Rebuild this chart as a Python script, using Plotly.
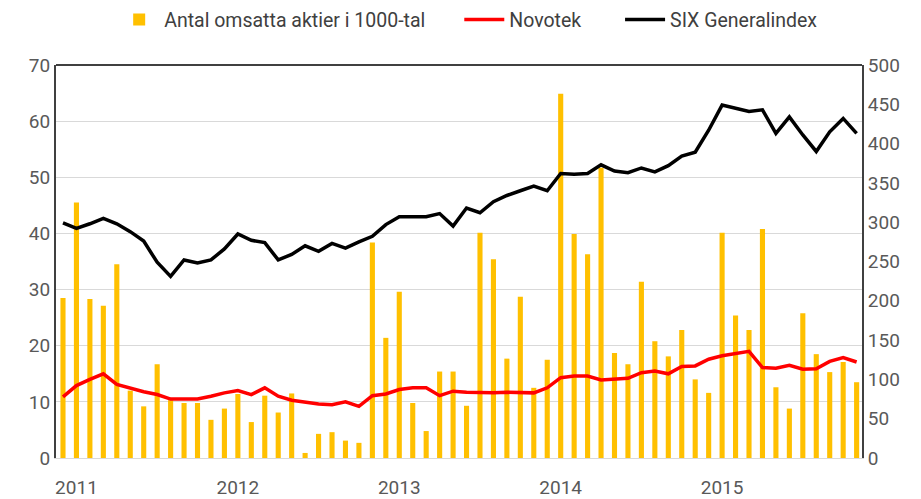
import plotly.graph_objects as go

years = ["2011", "2012", "2013", "2014", "2015"]
month_numbers = ["01", "02", "03", "04", "05", "06", "07", "08", "09", "10", "11", "12"]
months = [f"{y}-{m}" for y in years for m in month_numbers]

# Antal omsatta aktier i 1000-tal (left axis)
volume = [28.5, 45.5, 28.3, 27.1, 34.5, 12.0, 9.2, 16.7, 10.3, 9.8,
          9.8, 6.8, 8.8, 11.4, 6.4, 11.1, 8.1, 11.5, 0.9, 4.3,
          4.6, 3.1, 2.7, 38.4, 21.4, 29.6, 9.8, 4.8, 15.4, 15.4,
          9.3, 40.1, 35.4, 17.7, 28.7, 12.5, 17.5, 64.9, 39.9, 36.3,
          51.7, 18.7, 16.7, 31.4, 20.8, 18.1, 22.8, 14.0, 11.6, 40.1,
          25.4, 22.8, 40.8, 12.6, 8.8, 25.8, 18.5, 15.3, 17.1, 13.5]

# Novotek share price (left axis)
novotek = [10.9, 12.9, 14.0, 15.0, 13.1, 12.4, 11.8, 11.3, 10.5, 10.5,
           10.5, 11.0, 11.6, 12.0, 11.3, 12.5, 11.0, 10.3, 10.0, 9.6,
           9.5, 10.0, 9.2, 11.1, 11.4, 12.2, 12.5, 12.5, 11.1, 11.9,
           11.7, 11.6, 11.6, 11.7, 11.6, 11.6, 12.5, 14.3, 14.6, 14.6,
           13.9, 14.0, 14.2, 15.2, 15.5, 15.0, 16.3, 16.4, 17.6, 18.2,
           18.6, 19.0, 16.1, 16.0, 16.5, 15.8, 15.9, 17.2, 17.9, 17.1]

# SIX Generalindex (right axis)
six = [299, 292, 298, 305, 298, 288, 276, 249, 231, 252,
       248, 252, 266, 285, 277, 274, 252, 259, 270, 263,
       273, 267, 275, 282, 297, 307, 307, 307, 311, 295,
       318, 312, 326, 334, 340, 346, 340, 362, 361, 362,
       373, 365, 363, 369, 364, 372, 384, 389, 417, 449,
       445, 441, 443, 413, 434, 411, 390, 415, 432, 413]

year_tick_months = [f"{y}-02" for y in years]

FONT = "Roboto, sans-serif"
GRAY = "#595959"
NB = "\u00a0"

fig = go.Figure()
fig.add_trace(go.Bar(x=months, y=volume, name="Antal omsatta aktier i 1000-tal" + NB * 6,
                     marker=dict(color="#FFC000", line=dict(width=0)), width=0.38))
fig.add_trace(go.Scatter(x=months, y=novotek, name="Novotek" + NB * 7, mode="lines",
                         line=dict(color="#FF0000", width=3.5)))
fig.add_trace(go.Scatter(x=months, y=six, name="SIX Generalindex", mode="lines",
                         line=dict(color="#000000", width=3.5), yaxis="y2"))

fig.update_layout(
    width=921, height=499,
    margin=dict(l=56, r=59, t=65, b=41, autoexpand=False),
    paper_bgcolor="white", plot_bgcolor="white",
    font=dict(family=FONT, size=19, color=GRAY),
    showlegend=True,
    legend=dict(orientation="h", x=0.512, xanchor="center", y=1.115, yanchor="middle",
                font=dict(family=FONT, size=19.5, color="#404040"), itemwidth=40),
    xaxis=dict(type="category", range=[-0.52, 59.4], tickmode="array",
               tickvals=year_tick_months, ticktext=years, showgrid=False,
               showline=True, linecolor="#d9d9d9", linewidth=1, ticks="",
               ticklabelstandoff=12, tickfont=dict(size=19, color=GRAY)),
    yaxis=dict(range=[0, 70], dtick=10, showgrid=True, gridcolor="#d9d9d9", gridwidth=1,
               showline=True, linecolor="#404040", linewidth=2, ticks="",
               zeroline=False, tickfont=dict(size=19, color=GRAY)),
    yaxis2=dict(range=[0, 500], dtick=50, overlaying="y", side="right", showgrid=False,
                showline=True, linecolor="#404040", linewidth=2, ticks="",
                zeroline=False, tickfont=dict(size=19, color=GRAY)),
    shapes=[dict(type="line", xref="paper", yref="paper", x0=0, x1=1, y0=1, y1=1,
                 line=dict(color="#404040", width=2))],
)

fig.write_html("out.html", config={"displayModeBar": False},
               post_script="document.body.style.margin='0';")
